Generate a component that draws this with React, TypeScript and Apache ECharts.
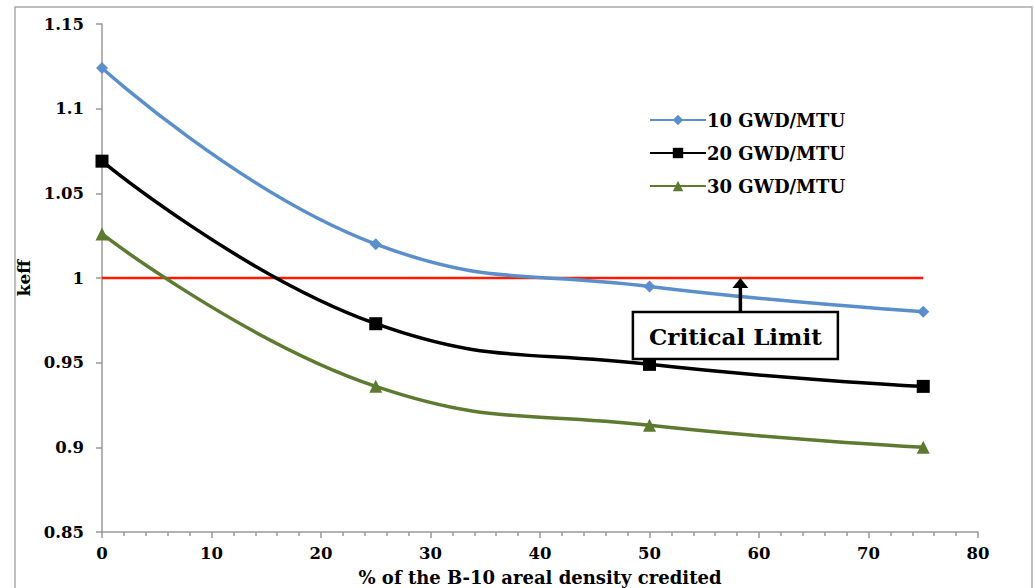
import React, { useEffect, useRef } from "react";
import * as echarts from "echarts";

const xValues = [0, 25, 50, 75];
const series10 = [1.124, 1.02, 0.995, 0.98];
const series20 = [1.069, 0.973, 0.949, 0.936];
const series30 = [1.026, 0.936, 0.913, 0.9];
const seriesNames = ["10 GWD/MTU", "20 GWD/MTU", "30 GWD/MTU"];
const criticalLimit = 1.0;
const limitRange = [0, 75];
const annotationX = 58.3;
const annotationLabel = "Critical Limit";
const xAxisTitle = "% of the B-10 areal density credited";
const yAxisTitle = "keff";

const FONT = "'DejaVu Serif', 'Liberation Serif', serif";

export default function App() {
  const ref = useRef<HTMLDivElement>(null);
  useEffect(() => {
    document.body.style.margin = "0";
    const chart = echarts.init(ref.current!, null, { renderer: "svg" });
    const pair = (vals: number[]) => xValues.map((x, i) => [x, vals[i]]);
    const lineSeries = (name: string, vals: number[], color: string, symbol: string, size: number) => ({
      name,
      type: "line",
      data: pair(vals),
      smooth: 0.45,
      symbol,
      symbolSize: size,
      lineStyle: { color, width: 3.5 },
      itemStyle: { color },
      z: 3,
    });
    chart.setOption({
      animation: false,
      grid: { left: 102, right: 56, top: 24, bottom: 56, outerBoundsMode: "none", containLabel: false },
      legend: {
        data: seriesNames,
        orient: "vertical",
        left: 644,
        top: 106,
        itemWidth: 56,
        itemHeight: 13,
        itemGap: 15,
        textStyle: { fontFamily: FONT, fontWeight: "bold", fontSize: 18, color: "#000", padding: [0, 0, 0, -4] },
      },
      xAxis: {
        type: "value",
        min: 0,
        max: 80,
        interval: 10,
        name: xAxisTitle,
        nameLocation: "middle",
        nameGap: 36,
        nameTextStyle: { fontFamily: FONT, fontWeight: "bold", fontSize: 18, color: "#000" },
        axisLine: { lineStyle: { color: "#999", width: 1.5 } },
        axisTick: { show: true, length: 6, lineStyle: { color: "#999", width: 1.5 } },
        minorTick: { show: true, splitNumber: 5, length: 4, lineStyle: { color: "#999", width: 1.5 } },
        axisLabel: { fontFamily: FONT, fontWeight: "bold", fontSize: 16.5, color: "#000", margin: 13 },
        splitLine: { show: false },
      },
      yAxis: {
        type: "value",
        min: 0.85,
        max: 1.15,
        interval: 0.05,
        name: yAxisTitle,
        nameLocation: "middle",
        nameGap: 62,
        nameRotate: 90,
        nameTextStyle: { fontFamily: FONT, fontWeight: "bold", fontSize: 17, color: "#000" },
        axisLine: { show: true, lineStyle: { color: "#999", width: 1.5 } },
        axisTick: { show: true, length: 6, lineStyle: { color: "#999", width: 1.5 } },
        axisLabel: {
          fontFamily: FONT,
          fontWeight: "bold",
          fontSize: 16.5,
          color: "#000",
          margin: 18,
          formatter: (v: number) => String(Number(v.toFixed(2))),
        },
        splitLine: { show: false },
      },
      series: [
        {
          name: "limit",
          type: "line",
          data: [[limitRange[0], criticalLimit], [limitRange[1], criticalLimit]],
          symbol: "none",
          lineStyle: { color: "#ff1a00", width: 2.5 },
          z: 2,
        },
        lineSeries(seriesNames[0], series10, "#5b8fcc", "diamond", 12),
        lineSeries(seriesNames[1], series20, "#000000", "rect", 13),
        lineSeries(seriesNames[2], series30, "#5c7a30", "triangle", 13),
      ],
    });
    const top = chart.convertToPixel({ gridIndex: 0 }, [annotationX, criticalLimit]);
    const boxTop = top[1] + 34;
    const boxW = 205;
    const boxH = 47;
    chart.setOption({
      graphic: [
        {
          type: "rect",
          shape: { x: 15, y: 7, width: 1017, height: 600 },
          style: { fill: "none", stroke: "#aaa", lineWidth: 1.5 },
          silent: true,
          z: -1,
        },
        {
          type: "line",
          shape: { x1: top[0], y1: boxTop, x2: top[0], y2: top[1] + 6 },
          style: { stroke: "#000", lineWidth: 3.5 },
          z: 10,
        },
        {
          type: "polygon",
          shape: { points: [[top[0], top[1]], [top[0] - 8, top[1] + 10], [top[0] + 8, top[1] + 10]] },
          style: { fill: "#000" },
          z: 10,
        },
        {
          type: "rect",
          shape: { x: top[0] - boxW / 2 - 5, y: boxTop, width: boxW, height: boxH },
          style: { fill: "#fff", stroke: "#000", lineWidth: 2.5 },
          z: 10,
        },
        {
          type: "text",
          x: top[0] - 5,
          y: boxTop + boxH / 2 + 1,
          style: {
            text: annotationLabel,
            fontFamily: FONT,
            fontWeight: "bold",
            fontSize: 23,
            fill: "#000",
            align: "center",
            verticalAlign: "middle",
          },
          z: 11,
        },
      ],
    });
    return () => chart.dispose();
  }, []);
  return <div ref={ref} style={{ position: "absolute", left: 0, top: 0, width: 1034, height: 588, background: "#fff" }} />;
}
